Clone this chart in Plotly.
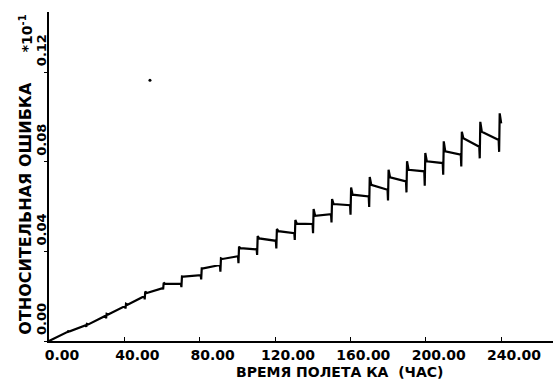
import plotly.graph_objects as go

# Jump times (hours) of each step of the relative-error curve
jump_t = [10.1, 20.0, 30.5, 40.8, 51.0, 60.8, 70.5, 81.0, 91.2, 100.8, 110.7, 120.9,
          130.7, 140.4, 150.2, 160.3, 170.2, 180.2, 190.0, 199.7, 209.5, 219.1, 228.9, 239.2]
# value at the end of the plateau just before each jump (x10^-1)
plateau_end = [0.0040, 0.0070, 0.0113, 0.0156, 0.0200, 0.0236, 0.0255, 0.0294, 0.0339, 0.0378,
               0.0409, 0.0447, 0.0481, 0.0522, 0.0566, 0.0606, 0.0645, 0.0675, 0.0712, 0.0757,
               0.0794, 0.0831, 0.0867, 0.0897]
# downward spike just before each jump
dip = [0.0037, 0.0063, 0.0101, 0.0145, 0.0186, 0.0230, 0.0240, 0.0275, 0.0309, 0.0347,
       0.0384, 0.0413, 0.0451, 0.0481, 0.0529, 0.0563, 0.0598, 0.0627, 0.0663, 0.0693,
       0.0742, 0.0779, 0.0815, 0.0844]
# top of each jump
peak = [0.0044, 0.0076, 0.0121, 0.0166, 0.0221, 0.0260, 0.0288, 0.0324, 0.0369, 0.0421,
        0.0468, 0.0500, 0.0540, 0.0589, 0.0633, 0.0685, 0.0732, 0.0764, 0.0802, 0.0839,
        0.0891, 0.0934, 0.0978, 0.1016]
# value where the plateau starts after each jump
plateau_start = [0.0043, 0.0074, 0.0118, 0.0162, 0.0214, 0.0255, 0.0287, 0.0324, 0.0366, 0.0414,
                 0.0458, 0.0490, 0.0524, 0.0559, 0.0611, 0.0653, 0.0697, 0.0730, 0.0764, 0.0802,
                 0.0846, 0.0905, 0.0934, 0.0971]
start_t, start_v = 0.0, 0.0

# stray speck on the original plot
speck_t = [53.6]
speck_v = [0.1164]

x_ticks = [0, 40, 80, 120, 160, 200, 240]
y_ticks = [0.0, 0.04, 0.08, 0.12]

xs = [start_t]
ys = [start_v]
for T, pe, d, pk, ps in zip(jump_t, plateau_end, dip, peak, plateau_start):
    xs += [T - 0.45, T - 0.2, T + 0.1, T + 0.9]
    ys += [pe, d, pk, ps]

FONT = "DejaVu Sans"
fig = go.Figure()
fig.add_trace(go.Scatter(x=xs, y=ys, mode="lines",
                         line=dict(color="black", width=2.2), showlegend=False,
                         hoverinfo="skip"))
fig.add_trace(go.Scatter(x=speck_t, y=speck_v, mode="markers",
                         marker=dict(color="black", size=3), showlegend=False))

fig.update_layout(
    width=553, height=381,
    margin=dict(l=49, r=0, t=12, b=40),
    paper_bgcolor="white", plot_bgcolor="white",
    font=dict(family=FONT, color="black"),
    xaxis=dict(range=[0, 267.6], tickvals=x_ticks, tickformat=".2f",
               showgrid=False, zeroline=False, showline=True, linecolor="black",
               linewidth=2, ticks="inside", ticklen=4, tickcolor="black",
               tickfont=dict(size=14, family=FONT, color="black", weight="bold"),
               ticklabelshift=13, ticklabelstandoff=0),
    yaxis=dict(range=[0, 0.1468], tickvals=y_ticks, tickformat=".2f",
               showgrid=False, zeroline=False, showline=True, linecolor="black",
               linewidth=1.5, ticks="outside", ticklen=3, tickcolor="black",
               tickangle=-90, ticklabelshift=-20, ticklabelstandoff=-7,
               tickfont=dict(size=13, family=FONT, color="black", weight="bold")),
    annotations=[
        dict(text="ВРЕМЯ ПОЛЕТА КА  (ЧАС)", xref="paper", yref="paper",
             x=0.577, y=-0.094, xanchor="center", yanchor="middle", showarrow=False,
             font=dict(size=14, family=FONT, color="black", weight="bold")),
        dict(text="ОТНОСИТЕЛЬНАЯ ОШИБКА", xref="paper", yref="paper",
             x=-0.047, y=0.403, xanchor="center", yanchor="middle", showarrow=False,
             textangle=-90, font=dict(size=16, family=FONT, color="black", weight="bold")),
        dict(text="*10<sup>-1</sup>", xref="paper", yref="paper",
             x=-0.044, y=0.935, xanchor="center", yanchor="middle", showarrow=False,
             textangle=-90, font=dict(size=14, family=FONT, color="black", weight="bold")),
    ],
)

fig.write_html("out.html")
